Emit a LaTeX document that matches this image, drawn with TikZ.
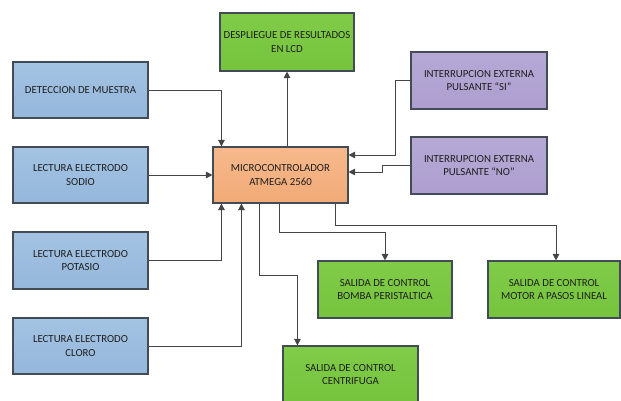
\documentclass[tikz,border=0pt]{standalone}
\usepackage{fontspec}
\setmainfont{Carlito}
\usetikzlibrary{arrows.meta,calc,shadows}
\definecolor{bordc}{HTML}{434B55}
\definecolor{linec}{HTML}{454545}
\definecolor{txtc}{HTML}{1E1E1E}
\tikzset{
  box/.style={draw=bordc, line width=1.1pt, minimum width=135pt, minimum height=56pt,
    align=center, text=txtc, font=\fontsize{10.8}{13.3}\selectfont, inner sep=2pt,
    drop shadow={shadow xshift=1.2pt, shadow yshift=-1.2pt, fill=black!25, opacity=0.5}},
  bluebox/.style={box, top color=blue1, bottom color=blue2},
  greenbox/.style={box, top color=green1, bottom color=green2},
  orangebox/.style={box, top color=orange1, bottom color=orange2},
  purplebox/.style={box, top color=purple1, bottom color=purple2},
  arr/.style={draw=linec, line width=0.9pt, -{Triangle[length=6.5pt,width=6.5pt]}}
}
\definecolor{blue1}{HTML}{A4C3E2}
\definecolor{blue2}{HTML}{94B7DC}
\definecolor{green1}{HTML}{80CC48}
\definecolor{green2}{HTML}{76C33E}
\definecolor{orange1}{HTML}{F6B98C}
\definecolor{orange2}{HTML}{F1AA77}
\definecolor{purple1}{HTML}{B6A9D6}
\definecolor{purple2}{HTML}{AD9ECF}
\begin{document}
\begin{tikzpicture}[x=1pt,y=-1pt]
\useasboundingbox[fill=white] (0,0) rectangle (621,401);
\node[bluebox] (det) at (80.5,90) {DETECCION DE MUESTRA};
\node[bluebox] (sod) at (80.5,175) {LECTURA ELECTRODO\\SODIO};
\node[bluebox, minimum height=57pt] (pot) at (80.5,260.5) {LECTURA ELECTRODO\\POTASIO};
\node[bluebox] (clo) at (80.5,346) {LECTURA ELECTRODO\\CLORO};
\node[greenbox, minimum width=134pt, minimum height=58pt] (lcd) at (287,42) {DESPLIEGUE DE RESULTADOS\\EN LCD};
\node[orangebox] (mic) at (280.5,175) {MICROCONTROLADOR\\ATMEGA 2560};
\node[purplebox, minimum width=136pt, minimum height=57pt] (si) at (479,80.5) {INTERRUPCION EXTERNA\\PULSANTE ``SI''};
\node[purplebox, minimum width=136pt, minimum height=57pt] (no) at (479,165.5) {INTERRUPCION EXTERNA\\PULSANTE ``NO''};
\node[greenbox, minimum width=134pt, minimum height=57pt] (bom) at (385,289.5) {SALIDA DE CONTROL\\BOMBA PERISTALTICA};
\node[greenbox, minimum width=132pt, minimum height=57pt] (mot) at (554,289.5) {SALIDA DE CONTROL\\MOTOR A PASOS LINEAL};
\node[greenbox, minimum height=57pt] (cen) at (350.5,374.5) {SALIDA DE CONTROL\\CENTRIFUGA};
% connectors
\draw[arr] (mic.north -| lcd.south) -- (lcd.south);
\draw[arr] (det.east) -| ($(mic.north west)+(9,0)$);
\draw[arr] (sod.east) -- (mic.west);
\draw[arr] (pot.east) -| ($(mic.south west)+(9,0)$);
\draw[arr] (clo.east) -| ($(mic.south west)+(29,0)$);
\draw[arr] (si.west) -- ++(-15,0) |- ($(mic.east)+(0,-20)$);
\draw[arr] (no.west) -- ++(-28,0) |- ($(mic.east)+(0,-3)$);
\draw[arr] ($(mic.south west)+(47,0)$) -- ++(0,72) -| ($(cen.north west)+(15,0)$);
\draw[arr] ($(mic.south west)+(67,0)$) -- ++(0,29) -| (bom.north);
\draw[arr] ($(mic.south east)+(-13,0)$) -- ++(0,22) -| ($(mot.north)+(2,0)$);
\end{tikzpicture}
\end{document}
